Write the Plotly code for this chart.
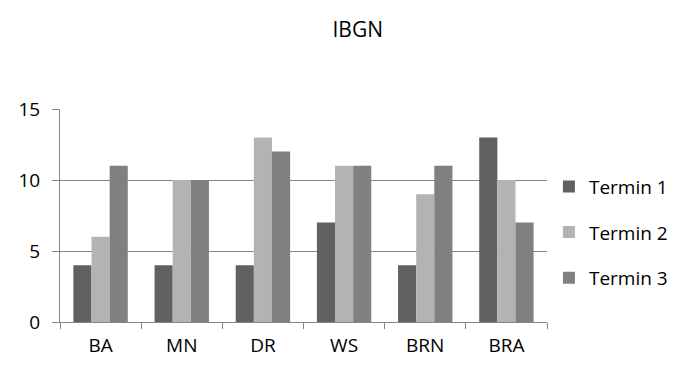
import plotly.graph_objects as go

categories = ["BA", "MN", "DR", "WS", "BRN", "BRA"]
termin1 = [4, 4, 4, 7, 4, 13]
termin2 = [6, 10, 13, 11, 9, 10]
termin3 = [11, 10, 12, 11, 11, 7]
series_names = ["Termin 1", "Termin 2", "Termin 3"]
colors = ["#616161", "#b3b3b3", "#808080"]
y_ticks = [0, 5, 10, 15]

fig = go.Figure()
for i, (name, vals) in enumerate(zip(series_names, [termin1, termin2, termin3])):
    fig.add_trace(go.Bar(x=categories, y=vals, name=name, marker_color=colors[i],
                         marker_line_width=0, legendgroup=name))

font = dict(family="Open Sans, Liberation Sans, sans-serif", size=19, color="#000000")
fig.update_layout(
    width=675, height=373,
    margin=dict(l=60, r=128, t=109, b=51, autoexpand=False),
    paper_bgcolor="white", plot_bgcolor="white",
    font=font,
    title=dict(text="IBGN", x=0.53, xanchor="center", y=0.92, yanchor="middle",
               font=dict(size=21)),
    barmode="group", bargap=0.33, bargroupgap=0,
    showlegend=True,
    legend=dict(x=1.004, xanchor="left", y=0.42, yanchor="middle",
                tracegroupgap=18, font=dict(size=19), itemwidth=30),
    xaxis=dict(type="category", tickson="boundaries", ticks="outside", ticklen=6,
               tickcolor="#868686", showline=True, linecolor="#868686", linewidth=1,
               showgrid=False, ticklabelstandoff=6),
    yaxis=dict(range=[0, 15], tickvals=y_ticks, ticks="outside", ticklen=7,
               tickcolor="#868686", showline=True, linecolor="#868686", linewidth=1,
               showgrid=True, gridcolor="#868686", gridwidth=1, zeroline=False,
               ticklabelstandoff=8),
)
fig.write_html("out.html")
